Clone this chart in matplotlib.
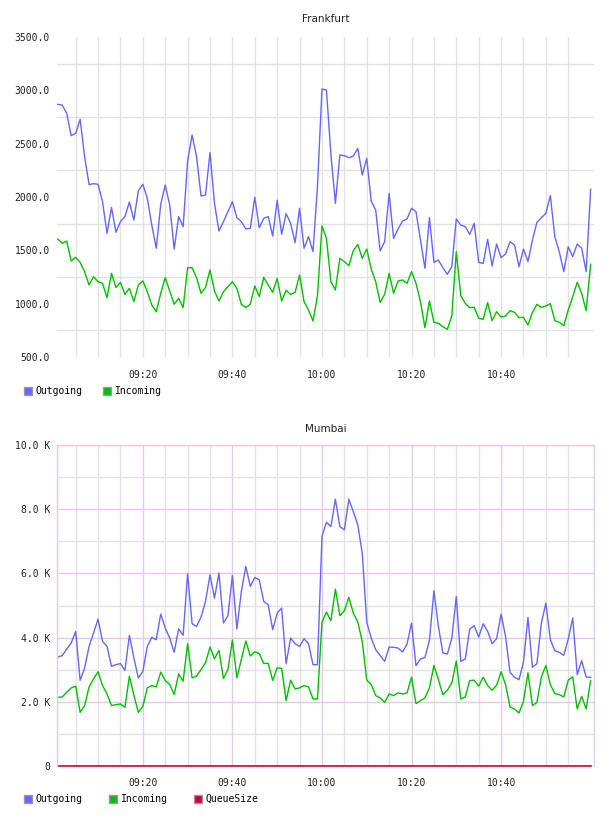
import matplotlib
matplotlib.use("Agg")
import matplotlib.pyplot as plt
import matplotlib.dates as mdates
from matplotlib.patches import Patch
from matplotlib.ticker import FixedLocator, FuncFormatter
import pandas as pd

# one sample per minute, 09:01 .. 11:00
times = pd.date_range("2024-01-01 09:01", "2024-01-01 11:00", freq="1min")

fra_out = [2869, 2862, 2784, 2575, 2597, 2728, 2378, 2116, 2125, 2119,
           1956, 1660, 1903, 1669, 1769, 1816, 1953, 1784, 2059, 2119,
           1987, 1737, 1519, 1931, 2112, 1925, 1512, 1816, 1722, 2337,
           2581, 2378, 2009, 2019, 2416, 1941, 1681, 1769, 1862, 1956,
           1806, 1769, 1700, 1706, 1997, 1712, 1800, 1816, 1634, 1969,
           1650, 1844, 1753, 1572, 1894, 1519, 1628, 1488, 2100, 3012,
           3003, 2400, 1941, 2394, 2387, 2369, 2384, 2456, 2206, 2362,
           1962, 1878, 1494, 1581, 2034, 1612, 1700, 1775, 1794, 1894,
           1862, 1597, 1331, 1806, 1387, 1409, 1337, 1275, 1347, 1794,
           1737, 1722, 1650, 1753, 1387, 1378, 1603, 1353, 1559, 1431,
           1466, 1581, 1550, 1347, 1512, 1394, 1597, 1762, 1806, 1847,
           2013, 1628, 1487, 1300, 1534, 1441, 1559, 1519, 1300, 2072]

fra_in = [1606, 1566, 1587, 1400, 1434, 1387, 1300, 1175, 1253, 1206,
          1191, 1056, 1284, 1150, 1200, 1087, 1144, 1019, 1175, 1213,
          1112, 988, 925, 1097, 1244, 1119, 994, 1050, 963, 1337,
          1337, 1244, 1097, 1153, 1316, 1119, 1025, 1112, 1159, 1206,
          1144, 994, 963, 994, 1166, 1066, 1247, 1175, 1106, 1237,
          1025, 1125, 1087, 1106, 1269, 1019, 941, 838, 1075, 1728,
          1612, 1206, 1128, 1425, 1394, 1356, 1497, 1556, 1425, 1512,
          1325, 1206, 1012, 1087, 1284, 1097, 1213, 1222, 1191, 1300,
          1191, 1019, 775, 1025, 825, 816, 784, 759, 888, 1487,
          1075, 1003, 963, 966, 863, 853, 1009, 841, 925, 875,
          884, 934, 919, 869, 872, 800, 919, 994, 966, 978,
          1000, 841, 825, 794, 941, 1066, 1200, 1097, 934, 1369]

mum_out = [3395, 3437, 3644, 3831, 4194, 2669, 3053, 3727, 4142, 4577,
           3883, 3727, 3105, 3157, 3188, 2980, 4069, 3364, 2742, 2949,
           3727, 4007, 3935, 4733, 4297, 3986, 3540, 4277, 4069, 5988,
           4432, 4349, 4639, 5127, 5957, 5231, 6009, 4453, 4681, 5936,
           4266, 5438, 6216, 5594, 5874, 5801, 5127, 5023, 4246, 4764,
           4920, 3188, 3986, 3810, 3727, 3966, 3810, 3157, 3157, 7149,
           7595, 7460, 8311, 7460, 7357, 8311, 7927, 7512, 6631, 4474,
           3986, 3623, 3447, 3260, 3706, 3696, 3675, 3551, 3800, 4453,
           3126, 3333, 3385, 3914, 5459, 4349, 3520, 3489, 3986, 5283,
           3260, 3333, 4266, 4370, 4017, 4432, 4194, 3810, 3966, 4733,
           4038, 2918, 2763, 2690, 3240, 4629, 3074, 3188, 4453, 5075,
           3935, 3592, 3540, 3447, 3955, 4609, 2846, 3281, 2773, 2763]

mum_in = [2141, 2151, 2298, 2433, 2486, 1671, 1880, 2465, 2715, 2935,
          2507, 2245, 1880, 1911, 1932, 1828, 2799, 2204, 1671, 1859,
          2433, 2507, 2465, 2924, 2663, 2538, 2225, 2872, 2642, 3812,
          2747, 2799, 3008, 3217, 3708, 3342, 3603, 2726, 3008, 3927,
          2747, 3321, 3896, 3426, 3561, 3499, 3196, 3196, 2663, 3060,
          3039, 2037, 2674, 2402, 2433, 2507, 2465, 2089, 2089, 4474,
          4795, 4526, 5511, 4681, 4837, 5252, 4764, 4484, 3883, 2674,
          2538, 2193, 2120, 1984, 2245, 2193, 2277, 2245, 2277, 2768,
          1943, 2037, 2120, 2433, 3133, 2695, 2225, 2360, 2590, 3269,
          2089, 2151, 2663, 2674, 2486, 2768, 2507, 2360, 2517, 2935,
          2538, 1838, 1776, 1650, 2016, 2903, 1880, 1984, 2778, 3133,
          2538, 2256, 2225, 2151, 2674, 2778, 1776, 2172, 1776, 2663]

mum_queue = [0] * len(times)

BLUE = "#6666ff"
GREEN = "#00c000"
RED = "#cc0033"
GREY = "#e2e2e2"
PINK = "#e3cbe3"
TXT = "#222222"
MONO = "DejaVu Sans Mono"

x0 = pd.Timestamp("2024-01-01 09:00:50")
x1 = pd.Timestamp("2024-01-01 11:00:45")

# labelled ticks every 20 min, grid every 5 min
major_t = pd.date_range("2024-01-01 09:20", "2024-01-01 10:40", freq="20min")
minor_t = pd.date_range("2024-01-01 09:05", "2024-01-01 10:55", freq="5min")
minor_t = minor_t[~minor_t.isin(major_t)]

fig = plt.figure(figsize=(6.08, 8.16), dpi=100)
fig.patch.set_facecolor("white")

ax1 = fig.add_axes([57 / 608, 1 - 357 / 816, 537 / 608, 320 / 816])
ax2 = fig.add_axes([57 / 608, 1 - 766 / 816, 537 / 608, 321 / 816])


def style_time_axis(ax, major_color):
    ax.set_xlim(x0, x1)
    ax.xaxis.set_major_locator(FixedLocator(mdates.date2num(major_t)))
    ax.xaxis.set_minor_locator(FixedLocator(mdates.date2num(minor_t)))
    ax.xaxis.set_major_formatter(mdates.DateFormatter("%H:%M"))
    ax.grid(True, which="major", axis="x", color=major_color, lw=1.0)
    ax.grid(True, which="minor", axis="x", color=GREY, lw=1.0)
    ax.tick_params(which="both", length=0, labelsize=7, colors=TXT)
    ax.tick_params(axis="x", pad=9)
    ax.tick_params(axis="y", pad=5)
    for lab in ax.get_xticklabels() + ax.get_yticklabels():
        lab.set_family(MONO)
    ax.set_axisbelow(True)


# Frankfurt
ax1.plot(times, fra_out, color=BLUE, lw=1.0)
ax1.plot(times, fra_in, color=GREEN, lw=1.0)
ax1.set_ylim(500, 3500)
ax1.yaxis.set_major_locator(FixedLocator([500, 1000, 1500, 2000, 2500, 3000, 3500]))
ax1.yaxis.set_minor_locator(FixedLocator([750, 1250, 1750, 2250, 2750, 3250]))
ax1.yaxis.set_major_formatter(FuncFormatter(lambda v, p: "%.1f" % v))
ax1.grid(True, which="minor", axis="y", color=GREY, lw=1.0)
style_time_axis(ax1, GREY)
for s in ax1.spines.values():
    s.set_visible(False)
ax1.set_title("Frankfurt", fontsize=7.5, color=TXT, pad=11)

# Mumbai
ax2.plot(times, mum_out, color=BLUE, lw=1.0)
ax2.plot(times, mum_in, color=GREEN, lw=1.0)
ax2.plot(times, mum_queue, color=RED, lw=1.2, clip_on=False)
ax2.set_ylim(0, 10000)
ax2.yaxis.set_major_locator(FixedLocator([0, 2000, 4000, 6000, 8000, 10000]))
ax2.yaxis.set_minor_locator(FixedLocator([1000, 3000, 5000, 7000, 9000]))
ax2.yaxis.set_major_formatter(
    FuncFormatter(lambda v, p: "0" if v == 0 else "%.1f K" % (v / 1000)))
ax2.grid(True, which="major", axis="y", color=PINK, lw=1.0)
ax2.grid(True, which="minor", axis="y", color=GREY, lw=1.0)
style_time_axis(ax2, PINK)
for name, s in ax2.spines.items():
    s.set_visible(name != "bottom")
    s.set_color(PINK)
    s.set_linewidth(1.0)
ax2.set_title("Mumbai", fontsize=7.5, color=TXT, pad=9)

# legends
leg_kw = dict(loc="upper left", frameon=False, handlelength=0.85, handleheight=0.85,
              handletextpad=0.35, borderaxespad=0, borderpad=0,
              prop={"family": MONO, "size": 7})

h1 = [Patch(facecolor=BLUE, edgecolor="#999999", label="Outgoing"),
      Patch(facecolor=GREEN, edgecolor="#999999", label="Incoming")]
fig.legend(handles=h1, ncol=2, columnspacing=2.1,
           bbox_to_anchor=(24 / 608, 1 - 386 / 816), **leg_kw)

h2 = [Patch(facecolor=BLUE, edgecolor="#999999", label="Outgoing"),
      Patch(facecolor=GREEN, edgecolor="#999999", label="Incoming"),
      Patch(facecolor=RED, edgecolor="#999999", label="QueueSize")]
fig.legend(handles=h2, ncol=3, columnspacing=2.7,
           bbox_to_anchor=(24 / 608, 1 - 794 / 816), **leg_kw)

fig.savefig("out.png", dpi=100, facecolor="white")
